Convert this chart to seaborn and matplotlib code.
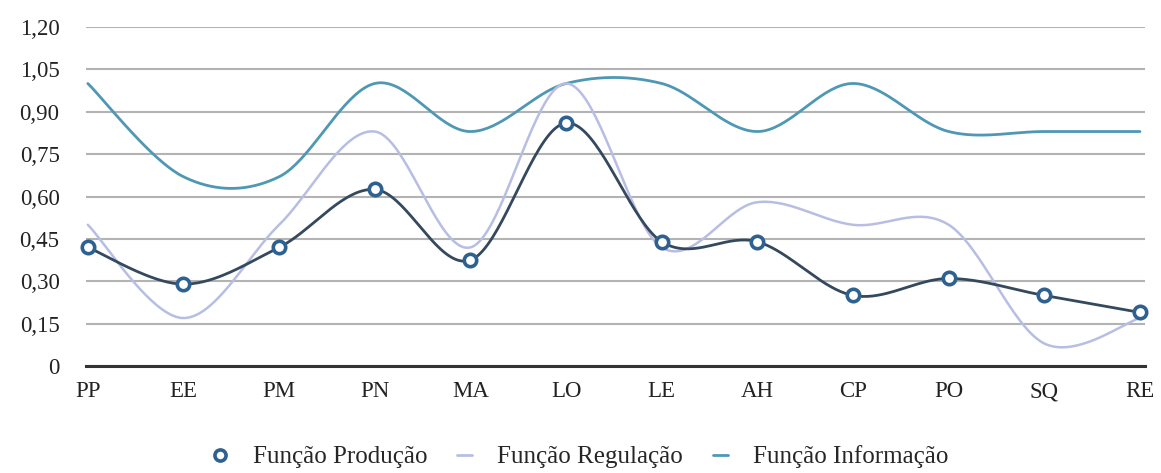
import numpy as np
import pandas as pd
import matplotlib
matplotlib.use("Agg")
import matplotlib.pyplot as plt
from matplotlib.lines import Line2D
import seaborn as sns

# categories and series values
categories = ['PP', 'EE', 'PM', 'PN', 'MA', 'LO', 'LE', 'AH', 'CP', 'PO', 'SQ', 'RE']
producao = [0.42, 0.29, 0.42, 0.625, 0.375, 0.86, 0.44, 0.44, 0.25, 0.31, 0.25, 0.19]
regulacao = [0.50, 0.17, 0.50, 0.83, 0.42, 1.00, 0.42, 0.58, 0.50, 0.50, 0.08, 0.17]
informacao = [1.00, 0.67, 0.67, 1.00, 0.83, 1.00, 1.00, 0.83, 1.00, 0.83, 0.83, 0.83]
yticks = [0, 0.15, 0.30, 0.45, 0.60, 0.75, 0.90, 1.05, 1.20]
ytick_labels = ['0', '0,15', '0,30', '0,45', '0,60', '0,75', '0,90', '1,05', '1,20']

series = {'Função Produção': producao,
          'Função Regulação': regulacao,
          'Função Informação': informacao}
colors = {'Função Produção': '#34495e',
          'Função Regulação': '#b8bee3',
          'Função Informação': '#4f98b5'}


def smooth(xs, ys, n=40):
    # office-style smoothed line: bezier segments with tangents (p[i+1]-p[i-1])/6
    p = np.column_stack([xs, ys]).astype(float)
    p_ext = np.vstack([p[0], p, p[-1]])
    out = []
    t = np.linspace(0, 1, n)[:, None]
    for i in range(len(p) - 1):
        p0, p1, p2, p3 = p_ext[i], p_ext[i + 1], p_ext[i + 2], p_ext[i + 3]
        c1 = p1 + (p2 - p0) / 6
        c2 = p2 - (p3 - p1) / 6
        seg = ((1 - t) ** 3) * p1 + 3 * ((1 - t) ** 2) * t * c1 + 3 * (1 - t) * t ** 2 * c2 + t ** 3 * p2
        out.append(seg if i == 0 else seg[1:])
    out = np.vstack(out)
    return out[:, 0], out[:, 1]


x = np.arange(len(categories))
rows = []
for name, vals in series.items():
    sx, sy = smooth(x, vals)
    rows.append(pd.DataFrame({'x': sx, 'y': sy, 'serie': name}))
df_smooth = pd.concat(rows, ignore_index=True)
df_points = pd.DataFrame({'x': x, 'y': producao})

sns.set_style('white')
plt.rcParams['font.family'] = ['Liberation Serif', 'DejaVu Serif']

fig = plt.figure(figsize=(11.61, 4.73), dpi=100)
ax = fig.add_axes([0.074, 0.226, 0.912, 0.717])

# draw order: informacao, regulacao, producao on top
for name, lw in [('Função Informação', 2.0), ('Função Regulação', 1.8), ('Função Produção', 2.0)]:
    sub = df_smooth[df_smooth['serie'] == name]
    sns.lineplot(data=sub, x='x', y='y', sort=False, color=colors[name], linewidth=lw,
                 ax=ax, estimator=None, clip_on=False, zorder=3)
sns.scatterplot(data=df_points, x='x', y='y', ax=ax, marker='o', s=80,
                facecolor='white', edgecolor='#2e6090', linewidth=2.6, zorder=4, clip_on=False)

ax.set_ylim(0, 1.2)
ax.set_xlim(-0.02, 11.05)
ax.set_yticks(yticks)
ax.set_yticklabels(ytick_labels)
ax.set_xticks(x)
ax.set_xticklabels(categories)
ax.yaxis.grid(True, color='#b3b3b3', linewidth=1.5)
ax.set_axisbelow(True)
for s in ['top', 'right', 'left']:
    ax.spines[s].set_visible(False)
ax.spines['bottom'].set_color('#333333')
ax.spines['bottom'].set_linewidth(2.2)
ax.spines['bottom'].set_zorder(2)
ax.tick_params(axis='both', length=0, labelsize=16.5, colors='#222222')
ax.tick_params(axis='y', pad=19)
ax.tick_params(axis='x', pad=11)
ax.set_xlabel('')
ax.set_ylabel('')
if ax.get_legend():
    ax.get_legend().remove()

handles = [
    Line2D([], [], linestyle='none', marker='o', markersize=8, markerfacecolor='white',
           markeredgecolor='#2e6090', markeredgewidth=2.6),
    Line2D([], [], color=colors['Função Regulação'], linewidth=2),
    Line2D([], [], color=colors['Função Informação'], linewidth=2),
]
fig.legend(handles, list(series.keys()), loc='center', bbox_to_anchor=(0.5, 0.034),
           ncol=3, frameon=False, fontsize=18, handlelength=0.6, columnspacing=1.2,
           handletextpad=1.0)

fig.savefig('out.png', dpi=100)
